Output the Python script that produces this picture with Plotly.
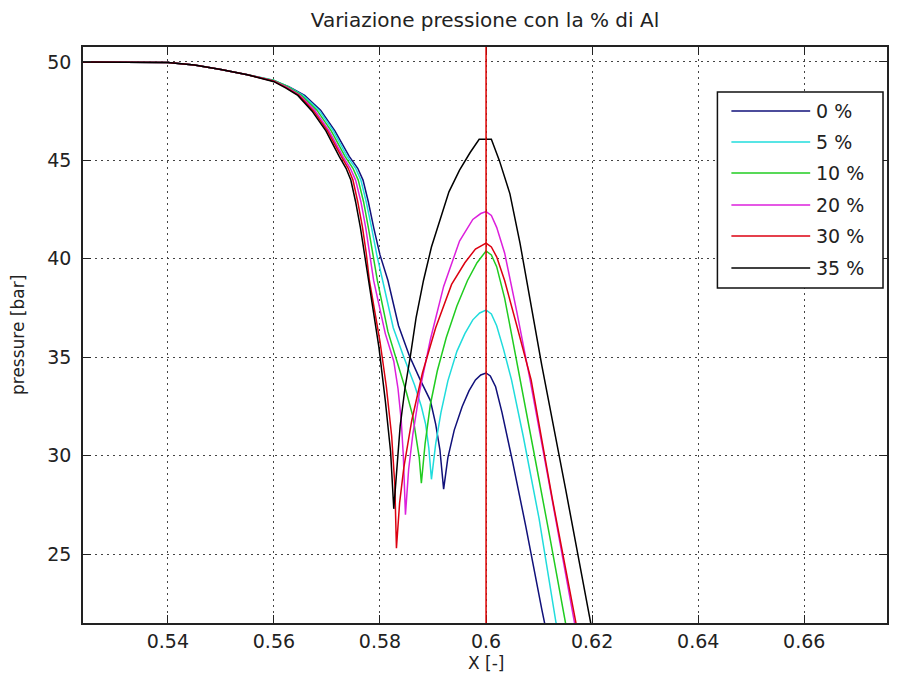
import plotly.graph_objects as go

# ---------------- data ----------------
labels = ["0 %", "5 %", "10 %", "20 %", "30 %", "35 %"]

x_head = [0.524, 0.535, 0.54, 0.545, 0.55, 0.555]
p_head = [50.0, 50.0, 49.97, 49.85, 49.62, 49.35]

x_0 = [0.56, 0.5628, 0.5658, 0.5688, 0.5715, 0.5742, 0.5758, 0.5768, 0.5778, 0.5788, 0.58, 0.5815,
       0.5835, 0.5855, 0.5875, 0.5895, 0.5905, 0.5913, 0.592, 0.5928, 0.594, 0.5955, 0.5968, 0.598,
       0.599, 0.6, 0.6008, 0.6018, 0.603, 0.605, 0.6075, 0.6105, 0.6115]
p_0 = [49.05, 48.75, 48.3, 47.55, 46.5, 45.2, 44.6, 44.0, 42.9, 41.6, 40.2, 38.9,
       36.6, 35.1, 33.9, 32.8, 31.6, 30.3, 28.3, 29.9, 31.3, 32.5, 33.3, 33.85,
       34.1, 34.2, 34.05, 33.5, 32.2, 29.7, 26.4, 22.2, 20.9]

x_5 = [0.56, 0.5627, 0.5655, 0.5685, 0.5712, 0.5738, 0.5754, 0.5764, 0.5774, 0.5784, 0.5794, 0.5805,
       0.5825, 0.5845, 0.5865, 0.5878, 0.5886, 0.5892, 0.5897, 0.5905, 0.5915, 0.5928, 0.5945, 0.596,
       0.5975, 0.5988, 0.6, 0.601, 0.602, 0.6033, 0.6048, 0.607, 0.610, 0.6132, 0.614]
p_5 = [49.07, 48.75, 48.3, 47.55, 46.5, 45.2, 44.6, 44.0, 42.9, 41.6, 40.2, 38.9,
       36.5, 35.0, 33.6, 32.5, 31.6, 30.4, 28.8, 30.6, 32.2, 33.8, 35.3, 36.2,
       36.9, 37.25, 37.4, 37.2, 36.6, 35.4, 33.85, 31.0, 26.8, 21.5, 20.5]

x_10 = [0.56, 0.5626, 0.5652, 0.5681, 0.5708, 0.5734, 0.5749, 0.5759, 0.5769, 0.5778, 0.5787, 0.5795,
        0.5815, 0.583, 0.585, 0.5862, 0.5869, 0.5874, 0.5878, 0.5885, 0.5895, 0.5908, 0.5925, 0.5945,
        0.5965, 0.5983, 0.6, 0.601, 0.602, 0.6035, 0.605, 0.6064, 0.609, 0.612, 0.615, 0.6158]
p_10 = [49.06, 48.75, 48.3, 47.55, 46.5, 45.2, 44.6, 44.0, 42.9, 41.6, 40.2, 38.9,
        36.3, 35.0, 33.2, 32.0, 30.9, 29.9, 28.6, 30.6, 32.6, 34.3, 36.0, 37.6,
        38.9, 39.8, 40.4, 40.2, 39.6, 38.0, 35.9, 33.85, 30.2, 25.9, 21.3, 20.3]

x_20 = [0.56, 0.5624, 0.5649, 0.5677, 0.5704, 0.573, 0.5744, 0.5754, 0.5764, 0.5773, 0.578, 0.5788,
        0.581, 0.5826, 0.5834, 0.584, 0.5844, 0.5848, 0.5854, 0.5862, 0.5875, 0.5895, 0.592, 0.595,
        0.5975, 0.599, 0.6, 0.601, 0.602, 0.6035, 0.6058, 0.6083, 0.6125, 0.6168, 0.6175]
p_20 = [49.03, 48.72, 48.3, 47.55, 46.5, 45.2, 44.6, 44.0, 42.9, 41.6, 40.3, 38.9,
        36.2, 34.8, 33.4, 31.8, 30.0, 27.0, 29.3, 31.1, 33.3, 35.9, 38.6, 40.9,
        42.0, 42.3, 42.4, 42.2, 41.6, 40.3, 37.3, 33.85, 27.7, 21.3, 20.3]

x_30 = [0.56, 0.5623, 0.5647, 0.5675, 0.5701, 0.5727, 0.574, 0.5749, 0.5758, 0.5767, 0.5774, 0.578,
        0.58, 0.5812, 0.5822, 0.5828, 0.5831, 0.5837, 0.5845, 0.586, 0.588, 0.5905, 0.5935, 0.596,
        0.598, 0.6, 0.601, 0.602, 0.6035, 0.6058, 0.6085, 0.6125, 0.617, 0.6178]
p_30 = [49.02, 48.7, 48.3, 47.5, 46.5, 45.2, 44.6, 44.0, 42.9, 41.6, 40.3, 38.9,
        35.8, 33.5, 31.0, 28.5, 25.3, 27.6, 29.4, 31.8, 34.2, 36.5, 38.7, 39.8,
        40.5, 40.8, 40.6, 40.1, 38.9, 36.6, 33.85, 27.8, 21.3, 20.3]

x_35 = [0.56, 0.5622, 0.5645, 0.5672, 0.5698, 0.5723, 0.5736, 0.5745, 0.5754, 0.5763, 0.5771, 0.5778,
        0.5798, 0.581, 0.582, 0.5826, 0.5831, 0.5838, 0.5847, 0.5857, 0.5868, 0.5882, 0.5897, 0.5914,
        0.593, 0.595, 0.597, 0.5987, 0.601, 0.6025, 0.6045, 0.6064, 0.6083, 0.6105, 0.615, 0.6196, 0.6205]
p_35 = [49.0, 48.68, 48.3, 47.5, 46.5, 45.2, 44.6, 44.0, 42.9, 41.6, 40.2, 38.9,
        35.5, 32.8, 30.2, 27.3, 29.2, 31.5, 33.4, 35.0, 37.0, 38.9, 40.6, 42.1,
        43.4, 44.5, 45.4, 46.07, 46.07, 45.0, 43.3, 40.8, 37.9, 34.6, 28.3, 21.6, 20.4]

x_series = [x_0, x_5, x_10, x_20, x_30, x_35]
p_series = [p_0, p_5, p_10, p_20, p_30, p_35]

x_marker = 0.6

x_ticks = [0.54, 0.56, 0.58, 0.6, 0.62, 0.64, 0.66]
x_ticktext = ["0.54", "0.56", "0.58", "0.6", "0.62", "0.64", "0.66"]
y_ticks = [25, 30, 35, 40, 45, 50]
x_range = [0.524, 0.6756]
y_range = [21.5, 50.76]

# ---------------- style ----------------
colors = ["#10107a", "#20dcdc", "#20cc20", "#dc20dc", "#dc0010", "#000000"]
FONT = "DejaVu Sans"
TXT = "#222222"

W, H = 898, 686
L, R, T, B = 83, 889, 47, 623

fig = go.Figure()
for lab, xs, ps, col in zip(labels, x_series, p_series, colors):
    fig.add_trace(go.Scatter(x=x_head + xs, y=p_head + ps, mode="lines", name=lab,
                             line=dict(color=col, width=1.5), showlegend=False))

fig.add_vline(x=x_marker, line_color="#dd0000", line_width=1.5)

axis_common = dict(showline=True, linecolor="#222222", linewidth=1.5, mirror="ticks",
                   ticks="inside", ticklen=8, tickwidth=1.3, tickcolor="#222222",
                   showgrid=True, gridcolor="#444444", gridwidth=1, griddash="2px,4px",
                   zeroline=False, tickfont=dict(family=FONT, size=19, color=TXT))

fig.update_xaxes(range=x_range, tickvals=x_ticks, ticktext=x_ticktext, **axis_common)
fig.update_yaxes(range=y_range, tickvals=y_ticks, ticklabelstandoff=6, **axis_common)

def fx(px):
    return (px - L) / (R - L)

def fy(py):
    return 1 - (py - T) / (B - T)

# custom legend (MATLAB style)
shapes = [dict(type="rect", xref="paper", yref="paper", x0=fx(719), x1=fx(885), y0=fy(288), y1=fy(92),
               line=dict(color="#111111", width=1.5), fillcolor="white", layer="above")]
leg_y = [111, 142, 173, 205, 236, 268]
annotations = []
for lab, col, yy in zip(labels, colors, leg_y):
    shapes.append(dict(type="line", xref="paper", yref="paper", x0=fx(733), x1=fx(812), y0=fy(yy), y1=fy(yy),
                       line=dict(color=col, width=1.5), layer="above"))
    annotations.append(dict(text=lab, xref="paper", yref="paper", x=fx(816), y=fy(yy), xanchor="left",
                            yanchor="middle", showarrow=False, font=dict(family=FONT, size=19, color=TXT)))

annotations.append(dict(text="X [-]", xref="paper", yref="paper", x=fx(487), y=0, yshift=-(663 - B),
                        xanchor="center", yanchor="middle", showarrow=False,
                        font=dict(family=FONT, size=17, color=TXT)))
annotations.append(dict(text="pressure [bar]", xref="paper", yref="paper", x=0, xshift=-(L - 18), y=0.5,
                        xanchor="center", yanchor="middle", textangle=-90, showarrow=False,
                        font=dict(family=FONT, size=17, color=TXT)))

fig.update_layout(
    width=W, height=H,
    margin=dict(l=L, r=W - R, t=T, b=H - B),
    paper_bgcolor="white", plot_bgcolor="white",
    title=dict(text="Variazione pressione con la % di Al", x=485 / W, xref="container", xanchor="center",
               y=1 - 20 / H, yref="container", yanchor="middle",
               font=dict(family=FONT, size=20, color=TXT)),
    shapes=fig.layout.shapes + tuple(shapes),
    annotations=annotations,
)

fig.write_html("out.html", config={"displayModeBar": False},
               post_script="document.body.style.margin='0px';")
